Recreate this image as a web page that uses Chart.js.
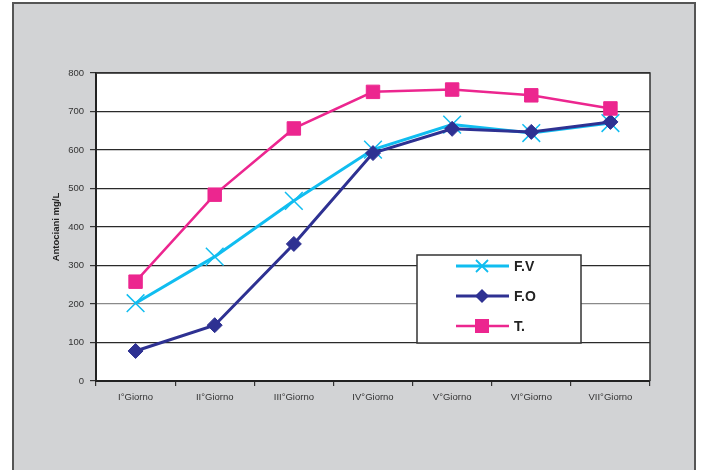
<!DOCTYPE html>
<html>
<head>
<meta charset="utf-8">
<script src="https://cdn.jsdelivr.net/npm/chart.js@4"></script>
<style>
  html, body { margin: 0; padding: 0; background: #ffffff; }
  canvas { display: block; }
</style>
</head>
<body>
<canvas id="c" width="701" height="470"></canvas>
<script>
// Categories (days) and anthocyanin content per sample, mg/L
const giorni = ['I°Giorno', 'II°Giorno', 'III°Giorno', 'IV°Giorno', 'V°Giorno', 'VI°Giorno', 'VII°Giorno'];
const serieFV = [202, 323, 468, 601, 666, 644, 670];
const serieFO = [78, 145, 356, 592, 655, 647, 673];
const serieT  = [258, 484, 656, 751, 757, 742, 708];
const nomiSerie = ['F.V', 'F.O', 'T.'];
const yMin = 0, yMax = 800, yStep = 100;

const COL_FV = '#10bdf0';
const COL_FO = '#2e3192';
const COL_T  = '#ec268f';
const GRAY_BG = '#d2d3d5';
const FONT = '"Liberation Sans", Arial, sans-serif';

// Gray frame, white plot area
const framePlugin = {
  id: 'frame',
  beforeDraw(chart) {
    const ctx = chart.ctx, a = chart.chartArea;
    ctx.save();
    ctx.fillStyle = '#ffffff';
    ctx.fillRect(0, 0, chart.width, chart.height);
    ctx.fillStyle = GRAY_BG;
    ctx.fillRect(13, 3, 682, chart.height);
    ctx.strokeStyle = '#555555';
    ctx.lineWidth = 2;
    ctx.beginPath();
    ctx.moveTo(13, chart.height + 2);
    ctx.lineTo(13, 3);
    ctx.lineTo(695, 3);
    ctx.lineTo(695, chart.height + 2);
    ctx.stroke();
    ctx.fillStyle = '#ffffff';
    ctx.fillRect(a.left, a.top, a.right - a.left, a.bottom - a.top);
    ctx.restore();
  },
  afterDatasetsDraw(chart) {
    const ctx = chart.ctx, a = chart.chartArea;
    ctx.save();
    ctx.strokeStyle = '#333333';
    ctx.lineWidth = 1.5;
    ctx.beginPath();
    ctx.moveTo(a.left, a.top);
    ctx.lineTo(a.right, a.top);
    ctx.lineTo(a.right, a.bottom);
    ctx.stroke();
    ctx.restore();
  }
};

// Boxed legend placed inside the plot area
const boxLegendPlugin = {
  id: 'boxLegend',
  afterDraw(chart) {
    const ctx = chart.ctx;
    const bx = 417, by = 255, bw = 164, bh = 88;
    ctx.save();
    ctx.fillStyle = '#ffffff';
    ctx.fillRect(bx, by, bw, bh);
    ctx.strokeStyle = '#333333';
    ctx.lineWidth = 1.5;
    ctx.strokeRect(bx, by, bw, bh);
    const rows = [266, 296, 326];
    chart.data.datasets.forEach((ds, i) => {
      const y = rows[i];
      const x0 = 456, x1 = 509, xm = 482;
      ctx.strokeStyle = ds.borderColor;
      ctx.lineWidth = ds.borderWidth;
      ctx.beginPath();
      ctx.moveTo(x0, y);
      ctx.lineTo(x1, y);
      ctx.stroke();
      ctx.fillStyle = ds.pointBackgroundColor;
      ctx.strokeStyle = ds.pointBorderColor;
      if (ds.pointStyle === 'crossRot') {
        const d = 6;
        ctx.lineWidth = 1.8;
        ctx.beginPath();
        ctx.moveTo(xm - d, y - d); ctx.lineTo(xm + d, y + d);
        ctx.moveTo(xm - d, y + d); ctx.lineTo(xm + d, y - d);
        ctx.stroke();
      } else if (ds.pointStyle === 'rectRot') {
        const r = 7;
        ctx.beginPath();
        ctx.moveTo(xm, y - r); ctx.lineTo(xm + r, y);
        ctx.lineTo(xm, y + r); ctx.lineTo(xm - r, y);
        ctx.closePath();
        ctx.fill();
      } else {
        ctx.fillRect(xm - 7, y - 7, 14, 14);
      }
      ctx.fillStyle = '#222222';
      ctx.font = 'bold 14px ' + FONT;
      ctx.textBaseline = 'middle';
      ctx.textAlign = 'left';
      ctx.fillText(ds.label, 514, y + 1);
    });
    ctx.restore();
  }
};

new Chart(document.getElementById('c'), {
  type: 'line',
  data: {
    labels: giorni,
    datasets: [
      {
        label: nomiSerie[0], data: serieFV, order: 3,
        borderColor: COL_FV, borderWidth: 3,
        pointStyle: 'crossRot', pointRadius: 12.5, pointHoverRadius: 12.5,
        pointBorderColor: COL_FV, pointBackgroundColor: COL_FV, pointBorderWidth: 1.5,
        tension: 0
      },
      {
        label: nomiSerie[1], data: serieFO, order: 2,
        borderColor: COL_FO, borderWidth: 3,
        pointStyle: 'rectRot', pointRadius: 7.5, pointHoverRadius: 7.5,
        pointBorderColor: COL_FO, pointBackgroundColor: COL_FO, pointBorderWidth: 1,
        tension: 0
      },
      {
        label: nomiSerie[2], data: serieT, order: 1,
        borderColor: COL_T, borderWidth: 2.5,
        pointStyle: 'rect', pointRadius: 9.5, pointHoverRadius: 9.5,
        pointBorderColor: COL_T, pointBackgroundColor: COL_T, pointBorderWidth: 1,
        tension: 0
      }
    ]
  },
  options: {
    responsive: false,
    animation: false,
    devicePixelRatio: 1,
    layout: { padding: { left: 40, right: 51, top: 73, bottom: 59 } },
    plugins: {
      legend: { display: false },
      tooltip: { enabled: false }
    },
    scales: {
      x: {
        offset: true,
        grid: {
          offset: true,
          drawOnChartArea: false,
          drawTicks: true,
          tickLength: 5,
          tickColor: '#333333',
          lineWidth: 1.2
        },
        border: { display: true, color: '#222222', width: 2 },
        ticks: {
          color: '#333333',
          font: { family: FONT, size: 9.5 },
          padding: 6,
          maxRotation: 0,
          autoSkip: false
        },
        afterFit(scale) { scale.height = 30; }
      },
      y: {
        min: yMin, max: yMax,
        grid: {
          color: (c) => (c.tick && c.tick.value === 200 ? '#8a8a8a' : '#2a2a2a'),
          lineWidth: 1.2,
          drawTicks: true,
          tickLength: 6,
          tickColor: '#333333'
        },
        border: { display: true, color: '#222222', width: 2 },
        ticks: {
          stepSize: yStep,
          color: '#333333',
          font: { family: FONT, size: 9.5 },
          padding: 6
        },
        title: {
          display: true,
          text: 'Antociani mg/L',
          color: '#222222',
          font: { family: FONT, size: 9.5, weight: 'bold' },
          padding: { top: 11, bottom: 0 }
        },
        afterFit(scale) { scale.width = 56; }
      }
    }
  },
  plugins: [framePlugin, boxLegendPlugin]
});
</script>
</body>
</html>
